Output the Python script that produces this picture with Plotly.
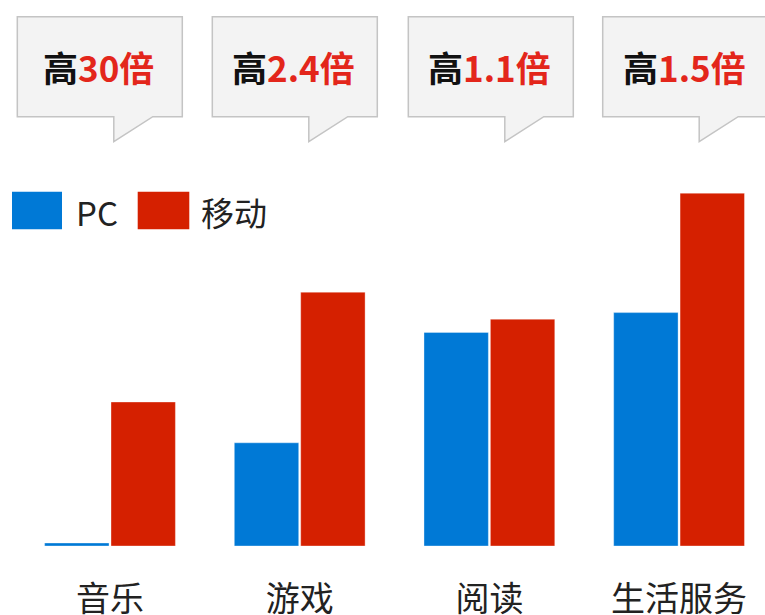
import plotly.graph_objects as go

categories = ["音乐", "游戏", "阅读", "生活服务"]
pc_values = [0.5, 17.2, 35.6, 38.9]
mobile_values = [24.0, 42.3, 37.8, 58.8]
series_names = ["PC", "移动"]
callout_labels = ["30倍", "2.4倍", "1.1倍", "1.5倍"]

BLUE = "#0079d6"
RED = "#d52000"
TXT_RED = "#e3261b"

W, H = 765, 615
T, B = 186, 69
PLOT_H = H - T - B
BASE = H - B


def px(x):
    return x / W


def py(y):
    return (BASE - y) / PLOT_H


fig = go.Figure()
fig.add_trace(go.Bar(x=categories, y=pc_values, name=series_names[0],
                     marker=dict(color=BLUE, line=dict(color="rgba(255,255,255,0.35)", width=1))))
fig.add_trace(go.Bar(x=categories, y=mobile_values, name=series_names[1],
                     marker=dict(color=RED, line=dict(color="rgba(255,255,255,0.35)", width=1))))

FONT = "Microsoft YaHei, Noto Sans CJK SC, sans-serif"

shapes = []
annotations = []

# callout boxes
box_lefts = [17.3, 212.3, 408.3, 602.7]
BW = 165
top, bot, apex = 16.7, 116.7, 141.7
for left, lab in zip(box_lefts, callout_labels):
    right = left + BW
    pa = left + 96.5
    pd = left + 135.5
    path = (f"M{px(left)},{py(top)} L{px(right)},{py(top)} L{px(right)},{py(bot)} "
            f"L{px(pd)},{py(bot)} L{px(pa)},{py(apex)} L{px(pa)},{py(bot)} "
            f"L{px(left)},{py(bot)} Z")
    shapes.append(dict(type="path", xref="paper", yref="paper", path=path,
                       fillcolor="#f3f3f3", line=dict(color="#c4c4c4", width=1.5),
                       layer="above"))
    annotations.append(dict(xref="paper", yref="paper", x=px(left + BW / 2 - 1), y=py(66),
                            xanchor="center", yanchor="middle", showarrow=False,
                            text=f"<b>高<span style='color:{TXT_RED}'>{lab}</span></b>",
                            font=dict(family=FONT, size=35, color="#111111")))

# legend
legend_items = [(12, 62, BLUE, series_names[0], 74), (137.7, 189.3, RED, series_names[1], 199)]
for x0, x1, col, name, tx in legend_items:
    shapes.append(dict(type="rect", xref="paper", yref="paper",
                       x0=px(x0), x1=px(x1), y0=py(229.3), y1=py(191.7),
                       fillcolor=col, line=dict(width=0)))
    annotations.append(dict(xref="paper", yref="paper", x=px(tx), y=py(212),
                            xanchor="left", yanchor="middle", showarrow=False,
                            text=name, font=dict(family=FONT, size=33, color="#222222")))

fig.update_layout(
    width=W, height=H,
    margin=dict(l=0, r=0, t=T, b=B, pad=0, autoexpand=False),
    paper_bgcolor="white", plot_bgcolor="white",
    showlegend=False,
    barmode="group", bargap=0.30, bargroupgap=0.03,
    shapes=shapes, annotations=annotations,
    xaxis=dict(range=[-0.58, 3.453], showgrid=False, zeroline=False, showline=False,
               automargin=False,
               ticks="", tickfont=dict(family=FONT, size=34, color="#222222"),
               ticklabelstandoff=30),
    yaxis=dict(range=[0, PLOT_H / 6], visible=False, showgrid=False, zeroline=False,
               automargin=False),
)

fig.write_html("out.html", config={"displayModeBar": False},
               post_script="document.body.style.margin='0';document.body.style.overflow='hidden';")
